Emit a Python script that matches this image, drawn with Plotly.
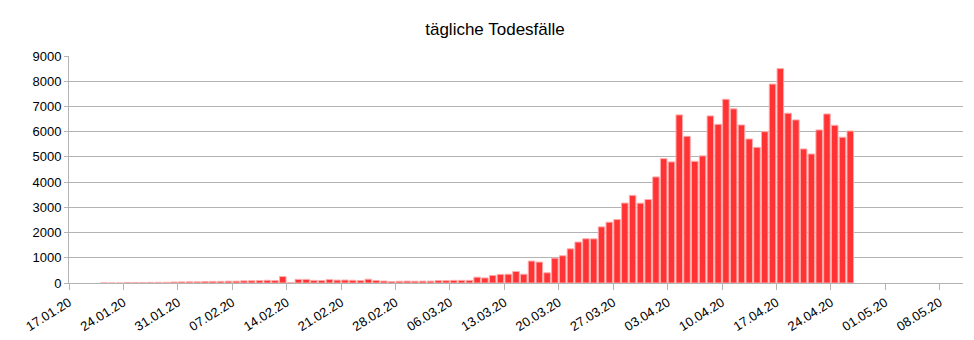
import datetime as dt
import plotly.graph_objects as go

start_date = "2020-01-21"
daily_deaths = [
    4, 0, 0,                                   # 21.01 - 23.01
    16, 15, 15, 24, 26, 26, 38, 43,            # 24.01 - 31.01
    46, 45, 57, 64, 66, 72, 73, 86, 89, 97,    # 01.02 - 10.02
    108, 97, 254, 13, 143, 142, 105, 98, 136, 115,  # 11.02 - 20.02
    118, 109, 97, 150, 100, 78, 60, 68, 75,    # 21.02 - 29.02
    70, 75, 75, 95, 95, 105, 105, 105, 230, 200,    # 01.03 - 10.03
    300, 340, 348, 455, 348, 870, 830, 405, 985, 1080,  # 11.03 - 20.03
    1355, 1623, 1754, 1750, 2225, 2410, 2515, 3170, 3475, 3165, 3310,  # 21.03 - 31.03
    4205, 4930, 4800, 6665, 5815, 4825, 5040, 6625, 6290, 7285,  # 01.04 - 10.04
    6905, 6267, 5710, 5380, 6000, 7885, 8500, 6732, 6466, 5315,  # 11.04 - 20.04
    5115, 6068, 6702, 6252, 5780, 6027,        # 21.04 - 26.04
]

title_text = "tägliche Todesfälle"
y_ticks = list(range(0, 9001, 1000))
x_start = "2020-01-17"
x_end = "2020-05-11"

d0 = dt.date.fromisoformat(start_date)
dates = [dt.datetime.combine(d0 + dt.timedelta(days=i), dt.time(12)) for i in range(len(daily_deaths))]

fig = go.Figure(go.Bar(
    x=dates,
    y=daily_deaths,
    width=0.84 * 86400000,
    marker=dict(color="#ff3333", line=dict(color="#ffaaaa", width=1)),
))

W, H = 974, 332
fig.update_layout(
    width=W, height=H,
    margin=dict(l=61, r=19, t=48, b=57),
    paper_bgcolor="white", plot_bgcolor="white",
    font=dict(family="Liberation Sans, Arial, sans-serif", size=13, color="#000000"),
    title=dict(text=title_text, x=0.5, xanchor="center", y=1 - 21 / H, yanchor="middle",
               font=dict(size=17, color="#000000")),
    showlegend=False,
)

fig.update_xaxes(
    type="date", range=[x_start, x_end], automargin=False,
    tick0=x_start, dtick=7 * 86400000, tickformat="%d.%m.%y",
    tickangle=-32, ticks="outside", ticklen=6, tickcolor="#b3b3b3",
    showgrid=False, showline=True, linecolor="#b3b3b3", linewidth=1,
    tickfont=dict(size=13), zeroline=False,
)
fig.update_yaxes(
    range=[0, 9000], tickvals=y_ticks, ticks="outside", ticklen=4, tickcolor="#b3b3b3",
    automargin=False,
    showgrid=True, gridcolor="#b3b3b3", gridwidth=1,
    showline=True, linecolor="#b3b3b3", linewidth=1, zeroline=False,
    tickfont=dict(size=13),
)

fig.write_html("out.html")
